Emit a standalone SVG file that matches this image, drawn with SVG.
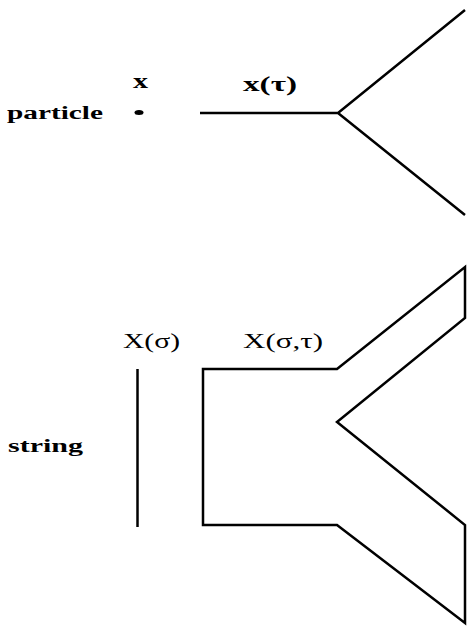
<svg xmlns="http://www.w3.org/2000/svg" width="467" height="630" viewBox="0 0 467 630">
<style>
.lbl{font-family:"Liberation Serif","Times New Roman",serif;font-weight:bold;fill:#000}
.sym{font-family:"Liberation Serif","Times New Roman",serif;fill:#000}
.ln{fill:none;stroke:#000;stroke-width:2.5;stroke-linejoin:miter}
</style>
<rect width="467" height="630" fill="#fff"/>
<g id="particle-label"><text class="lbl" x="7" y="119" font-size="18" textLength="96" lengthAdjust="spacingAndGlyphs">particle</text></g>
<g id="particle-point">
<text class="lbl" x="133" y="88" font-size="21" textLength="15" lengthAdjust="spacingAndGlyphs">x</text>
<ellipse cx="139" cy="112.5" rx="4.5" ry="2.5" fill="#000"/>
</g>
<g id="string-label"><text class="lbl" x="8" y="452" font-size="18" textLength="75" lengthAdjust="spacingAndGlyphs">string</text></g>
<g id="string">
<text class="sym" x="123" y="348" font-size="21" textLength="57" lengthAdjust="spacingAndGlyphs">X(σ)</text>
<line class="ln" x1="137.5" y1="369" x2="137.5" y2="527"/>
</g>
<g id="connectors">
<g id="worldline">
<text class="lbl" x="243" y="91" font-size="20" textLength="54" lengthAdjust="spacingAndGlyphs">x(τ)</text>
<path class="ln" d="M200 113 H338 L465 10 M338 113 L465 215" stroke-width="3"/>
</g>
<g id="worldsheet">
<text class="sym" x="243" y="348" font-size="21" textLength="80" lengthAdjust="spacingAndGlyphs">X(σ,τ)</text>
<path class="ln" d="M337 369 H203 V525 H337 L465 623 V525 L337 422 L465 318 V267 Z"/>
</g>
</g>
</svg>
